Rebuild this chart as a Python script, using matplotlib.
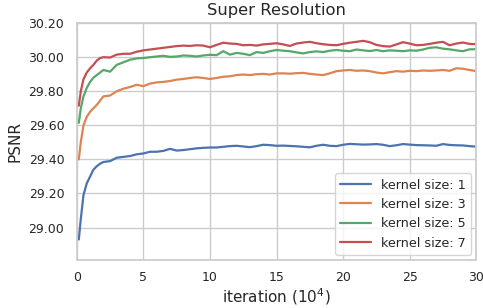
import matplotlib
matplotlib.use("Agg")
import matplotlib.pyplot as plt
import seaborn as sns
import numpy as np

sns.set_theme(style="whitegrid")
plt.rcParams['font.family'] = ['DejaVu Sans']

iters = [0.15, 0.3, 0.5, 0.75, 1.0, 1.25, 1.5, 1.75, 2.0, 2.5, 3.0, 3.5, 4.0, 4.5, 5.0,
         5.5, 6.0, 6.5, 7.0, 7.5, 8.0, 8.5, 9.0, 9.5, 10.0, 10.5, 11.0, 11.5, 12.0, 12.5,
         13.0, 13.5, 14.0, 14.5, 15.0, 15.5, 16.0, 16.5, 17.0, 17.5, 18.0, 18.5, 19.0, 19.5,
         20.0, 20.5, 21.0, 21.5, 22.0, 22.5, 23.0, 23.5, 24.0, 24.5, 25.0, 25.5, 26.0, 26.5,
         27.0, 27.5, 28.0, 28.5, 29.0, 29.5, 30.0]

k1 = [28.93, 29.05, 29.19, 29.26, 29.30, 29.34, 29.36, 29.375, 29.385, 29.39, 29.41, 29.415,
      29.42, 29.43, 29.435, 29.445, 29.445, 29.45, 29.462, 29.452, 29.455, 29.46, 29.465,
      29.468, 29.47, 29.470, 29.474, 29.478, 29.480, 29.476, 29.472, 29.478, 29.486, 29.484,
      29.480, 29.481, 29.479, 29.477, 29.474, 29.471, 29.480, 29.486, 29.480, 29.478, 29.486,
      29.491, 29.489, 29.487, 29.488, 29.490, 29.486, 29.478, 29.483, 29.490, 29.487, 29.484,
      29.483, 29.482, 29.480, 29.490, 29.485, 29.483, 29.482, 29.478, 29.475]

k3 = [29.40, 29.50, 29.60, 29.65, 29.68, 29.70, 29.72, 29.745, 29.77, 29.775, 29.80, 29.815,
      29.825, 29.838, 29.83, 29.845, 29.852, 29.855, 29.86, 29.868, 29.872, 29.878, 29.882,
      29.878, 29.872, 29.878, 29.885, 29.888, 29.895, 29.898, 29.895, 29.900, 29.902, 29.898,
      29.905, 29.905, 29.903, 29.906, 29.908, 29.902, 29.898, 29.895, 29.905, 29.918, 29.922,
      29.925, 29.92, 29.922, 29.918, 29.91, 29.905, 29.912, 29.918, 29.915, 29.92, 29.918,
      29.922, 29.92, 29.922, 29.925, 29.92, 29.935, 29.932, 29.925, 29.918]

k5 = [29.615, 29.70, 29.77, 29.82, 29.855, 29.88, 29.895, 29.91, 29.925, 29.915, 29.955, 29.97,
      29.985, 29.993, 29.995, 30.0, 30.004, 30.008, 30.002, 30.004, 30.01, 30.008, 30.004,
      30.01, 30.014, 30.012, 30.035, 30.015, 30.025, 30.02, 30.012, 30.03, 30.025, 30.035,
      30.042, 30.038, 30.035, 30.028, 30.022, 30.03, 30.034, 30.03, 30.038, 30.042, 30.038,
      30.035, 30.045, 30.04, 30.036, 30.042, 30.035, 30.04, 30.038, 30.035, 30.04, 30.038,
      30.045, 30.055, 30.058, 30.05, 30.046, 30.04, 30.035, 30.046, 30.047]

k7 = [29.715, 29.80, 29.87, 29.91, 29.935, 29.955, 29.98, 29.995, 30.0, 29.998, 30.015, 30.02,
      30.02, 30.032, 30.04, 30.045, 30.05, 30.055, 30.06, 30.065, 30.068, 30.066, 30.07,
      30.068, 30.058, 30.072, 30.085, 30.08, 30.078, 30.07, 30.072, 30.068, 30.075, 30.078,
      30.082, 30.075, 30.066, 30.08, 30.086, 30.09, 30.082, 30.076, 30.072, 30.07, 30.078,
      30.085, 30.09, 30.096, 30.088, 30.072, 30.065, 30.062, 30.075, 30.088, 30.08, 30.07,
      30.072, 30.078, 30.085, 30.09, 30.07, 30.08, 30.086, 30.078, 30.076]

labels = ["kernel size: 1", "kernel size: 3", "kernel size: 5", "kernel size: 7"]
series = [k1, k3, k5, k7]
colors = sns.color_palette("deep")[:4]

fig = plt.figure(figsize=(4.83, 3.08), dpi=100)
ax = fig.add_axes([0.159, 0.156, 0.827, 0.769])
for s, lab, c in zip(series, labels, colors):
    ax.plot(iters, s, color=c, lw=1.6, label=lab)

ax.set_xlim(0, 30)
ax.set_ylim(28.81, 30.20)
ax.set_xticks([0, 5, 10, 15, 20, 25, 30])
ax.set_yticks([29.0, 29.2, 29.4, 29.6, 29.8, 30.0, 30.2])
ax.set_yticklabels([f"{v:.2f}" for v in [29.0, 29.2, 29.4, 29.6, 29.8, 30.0, 30.2]])
ax.tick_params(axis='x', labelsize=9, pad=1.7)
ax.tick_params(axis='y', labelsize=9, pad=3)
ax.set_xlabel("iteration ($10^4$)", fontsize=11, labelpad=2)
ax.set_ylabel("PSNR", fontsize=11, labelpad=4)
ax.set_title("Super Resolution", fontsize=11.8, pad=6)
ax.legend(loc="lower right", fontsize=9.2, borderaxespad=0.4, handlelength=2.4)

fig.savefig("out.png", dpi=100)
